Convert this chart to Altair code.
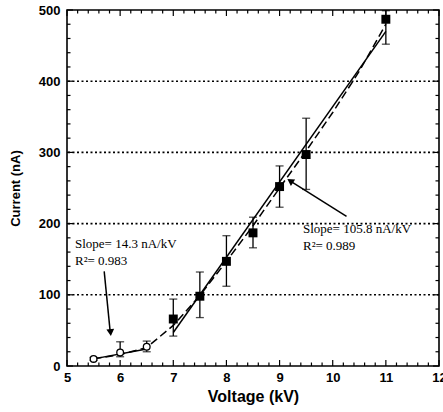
import altair as alt
import pandas as pd

# ---- data ----
volt_open = [5.5, 6.0, 6.5]
cur_open = [10, 19, 27]
open_lo = [8, 13, 20]
open_hi = [12, 34, 35]

volt_sq = [7.0, 7.5, 8.0, 8.5, 9.0, 9.5, 11.0]
cur_sq = [66, 98, 147, 187, 252, 297, 487]
sq_lo = [42, 68, 112, 166, 223, 248, 452]
sq_hi = [94, 132, 183, 209, 281, 348, 499]

fit_low_x = [5.5, 6.5]
fit_low_y = [10, 24]
fit_high_x = [7.0, 11.0]
fit_high_y = [47, 470]

curve_x = [5.5, 6.0, 6.5, 7.0, 7.5, 8.0, 8.5, 9.0, 9.5, 10.0, 10.5, 11.0]
curve_y = [10, 16, 26, 57, 99, 147, 197, 250, 302, 356, 414, 480]

x_major = [5, 6, 7, 8, 9, 10, 11, 12]
x_minor = [round(5 + 0.2 * i, 1) for i in range(36) if i % 5 != 0]
y_major = [0, 100, 200, 300, 400, 500]
y_minor = [v for v in range(0, 501, 20) if v % 100 != 0]
y_grid = [100, 200, 300, 400]

notes_text = ["Slope= 14.3 nA/kV", "R\u00b2= 0.983", "Slope= 105.8 nA/kV", "R\u00b2= 0.989"]
notes_x = [5.15, 5.15, 9.44, 9.44]
notes_y = [172, 148, 192, 169]

arrow1_x = [5.70, 5.81]
arrow1_y = [133, 50]
arrow2_x = [10.26, 9.22]
arrow2_y = [210, 259]
heads_x = [5.82, 9.20]
heads_y = [47, 260]
heads_angle = [175, 303]

W, H = 372, 356

xs = alt.Scale(domain=[5, 12], nice=False, zero=False)
ys = alt.Scale(domain=[0, 500], nice=False)

X_AXIS = alt.Axis(values=x_major, ticks=False, domain=False, grid=False,
                  labelFont="Liberation Sans", labelFontWeight="bold", labelFontSize=13,
                  labelColor="black", labelPadding=5, labelFlush=False, labelOverlap=False,
                  titleFont="Liberation Sans", titleFontWeight="bold", titleFontSize=16,
                  titleColor="black", titlePadding=4)
Y_AXIS = alt.Axis(values=y_major, ticks=False, domain=False, grid=False,
                  labelFont="Liberation Sans", labelFontWeight="bold", labelFontSize=13,
                  labelColor="black", labelPadding=7, labelFlush=False,
                  titleFont="Liberation Sans", titleFontWeight="bold", titleFontSize=13,
                  titleColor="black", titlePadding=16)


def X(field="v"):
    return alt.X(f"{field}:Q", scale=xs, axis=X_AXIS, title="Voltage (kV)")


def Y(field="c"):
    return alt.Y(f"{field}:Q", scale=ys, axis=Y_AXIS, title="Current (nA)")


open_df = pd.DataFrame({"v": volt_open, "c": cur_open, "lo": open_lo, "hi": open_hi})
sq_df = pd.DataFrame({"v": volt_sq, "c": cur_sq, "lo": sq_lo, "hi": sq_hi})
err_df = pd.concat([open_df, sq_df], ignore_index=True)

fit_df = pd.DataFrame({
    "v": fit_low_x + fit_high_x,
    "c": fit_low_y + fit_high_y,
    "g": ["a", "a", "b", "b"],
})
curve_df = pd.DataFrame({"v": curve_x, "c": curve_y})
notes_df = pd.DataFrame({"t": notes_text, "v": notes_x, "c": notes_y})
arrows_df = pd.DataFrame({
    "v": arrow1_x + arrow2_x,
    "c": arrow1_y + arrow2_y,
    "g": ["a", "a", "b", "b"],
})
heads_df = pd.DataFrame({"v": heads_x, "c": heads_y, "a": heads_angle})

grid = alt.Chart(pd.DataFrame({"c": y_grid})).mark_rule(
    color="black", strokeWidth=1.6, strokeDash=[2, 2.5]
).encode(y=Y())

xmaj = pd.DataFrame({"v": x_major})
xmin = pd.DataFrame({"v": x_minor})
ymaj = pd.DataFrame({"c": y_major})
ymin = pd.DataFrame({"c": y_minor})

tick_layers = [
    alt.Chart(xmaj).mark_rule(color="black", strokeWidth=1.2).encode(x=X(), y=alt.value(H), y2=alt.value(H - 6)),
    alt.Chart(xmaj).mark_rule(color="black", strokeWidth=1.2).encode(x=X(), y=alt.value(0), y2=alt.value(6)),
    alt.Chart(xmin).mark_rule(color="black", strokeWidth=1.2).encode(x=X(), y=alt.value(H), y2=alt.value(H - 3.5)),
    alt.Chart(xmin).mark_rule(color="black", strokeWidth=1.2).encode(x=X(), y=alt.value(0), y2=alt.value(3.5)),
    alt.Chart(ymaj).mark_rule(color="black", strokeWidth=1.2).encode(y=Y(), x=alt.value(0), x2=alt.value(6)),
    alt.Chart(ymaj).mark_rule(color="black", strokeWidth=1.2).encode(y=Y(), x=alt.value(W), x2=alt.value(W - 6)),
    alt.Chart(ymin).mark_rule(color="black", strokeWidth=1.2).encode(y=Y(), x=alt.value(0), x2=alt.value(3.5)),
    alt.Chart(ymin).mark_rule(color="black", strokeWidth=1.2).encode(y=Y(), x=alt.value(W), x2=alt.value(W - 3.5)),
]

curve = alt.Chart(curve_df).mark_line(color="black", strokeWidth=1.5, strokeDash=[8, 4]).encode(
    x=X(), y=Y(), order="v:Q")
fits = alt.Chart(fit_df).mark_line(color="black", strokeWidth=1.5).encode(
    x=X(), y=Y(), detail="g:N")

err = alt.Chart(err_df).mark_rule(color="black", strokeWidth=1.3).encode(
    x=X(), y=Y("lo"), y2="hi:Q")
cap_lo = alt.Chart(err_df).mark_tick(color="black", orient="horizontal", size=8, thickness=1.3).encode(
    x=X(), y=Y("lo"))
cap_hi = alt.Chart(err_df).mark_tick(color="black", orient="horizontal", size=8, thickness=1.3).encode(
    x=X(), y=Y("hi"))

open_pts = alt.Chart(open_df).mark_point(shape="circle", size=45, color="black", filled=False,
                                          strokeWidth=1.3, fill="white", fillOpacity=1).encode(x=X(), y=Y())
sq_pts = alt.Chart(sq_df).mark_point(shape="square", size=80, color="black", filled=True,
                                      opacity=1).encode(x=X(), y=Y())

arrows = alt.Chart(arrows_df).mark_line(color="black", strokeWidth=1.5).encode(
    x=X(), y=Y(), detail="g:N")
heads = alt.Chart(heads_df).mark_point(shape="triangle-up", size=60, color="black", filled=True,
                                        opacity=1).encode(x=X(), y=Y(), angle=alt.Angle("a:Q", scale=None))

notes = alt.Chart(notes_df).mark_text(align="left", baseline="middle", font="Liberation Serif",
                                       fontSize=13, color="black").encode(x=X(), y=Y(), text="t:N")

chart = alt.layer(grid, *tick_layers, curve, fits, err, cap_lo, cap_hi, open_pts, sq_pts,
                  arrows, heads, notes).properties(
    width=W, height=H,
    autosize=alt.AutoSizeParams(type="none"),
    padding={"left": 67, "top": 10, "right": 4, "bottom": 46},
    background="white",
).configure_view(stroke="black", strokeWidth=1.6)

chart.save("out.html", embed_options={"renderer": "svg", "actions": False})
